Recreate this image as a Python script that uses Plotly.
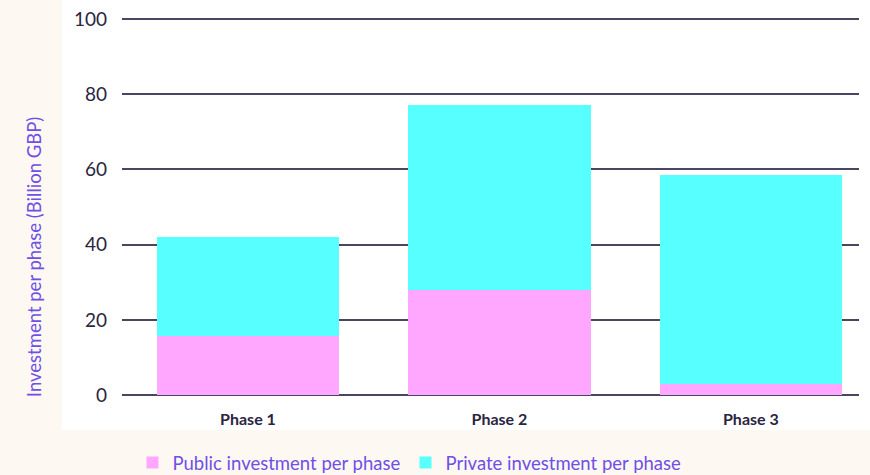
import plotly.graph_objects as go

categories = ["Phase 1", "Phase 2", "Phase 3"]
public_values = [15.8, 28.0, 3.0]
private_values = [26.2, 49.2, 55.6]
y_ticks = [0, 20, 40, 60, 80, 100]

FONT = "Lato, 'Noto Sans', sans-serif"
PURPLE = "#6f4fe6"
DARK = "#2a2540"
CREAM = "#fdf9f2"

fig = go.Figure()
fig.add_trace(go.Bar(x=categories, y=public_values, name="Public investment per phase",
                     marker=dict(color="#ffa6ff", line=dict(width=0))))
fig.add_trace(go.Bar(x=categories, y=private_values, name="Private investment per phase",
                     marker=dict(color="#57ffff", line=dict(width=0))))

fig.update_layout(
    barmode="stack",
    bargap=0.274,
    width=870, height=475,
    margin=dict(l=122, r=11, t=17, b=78, autoexpand=False),
    paper_bgcolor=CREAM,
    plot_bgcolor="white",
    font=dict(family=FONT, color=DARK),
    showlegend=True,
    legend=dict(orientation="h", xref="container", yref="container",
                x=0.4707, xanchor="center", y=0.0253, yanchor="middle",
                font=dict(size=18.5, color=PURPLE, family=FONT), bgcolor="rgba(0,0,0,0)",
                itemwidth=30, traceorder="normal"),
    shapes=[dict(type="rect", xref="paper", yref="paper", x0=-0.0814, x1=1.03,
                 y0=-0.0868, y1=1.06, fillcolor="white", line=dict(width=0), layer="below")],
    annotations=[dict(text="Investment per phase (Billion GBP)", xref="paper", yref="paper",
                      x=-0.1194, y=0.368, xanchor="center", yanchor="middle",
                      textangle=-90, showarrow=False,
                      font=dict(size=18.5, color=PURPLE, family=FONT))],
)
fig.update_xaxes(range=[-0.501, 2.43], showgrid=False, showline=False, ticks="",
                 automargin=False,
                 tickfont=dict(size=16, color=DARK, family=FONT, weight="bold"),
                 ticklabelstandoff=11)
fig.update_yaxes(range=[-0.5, 100.5], tickvals=y_ticks, showgrid=True, gridcolor="#4a4560",
                 gridwidth=2, zeroline=False, showline=False, ticks="", automargin=False,
                 tickfont=dict(size=19, color=DARK, family=FONT), ticklabelstandoff=14)

fig.write_html("out.html", config={"displayModeBar": False},
               post_script="document.body.style.margin='0px';document.body.style.background='%s';" % CREAM)
